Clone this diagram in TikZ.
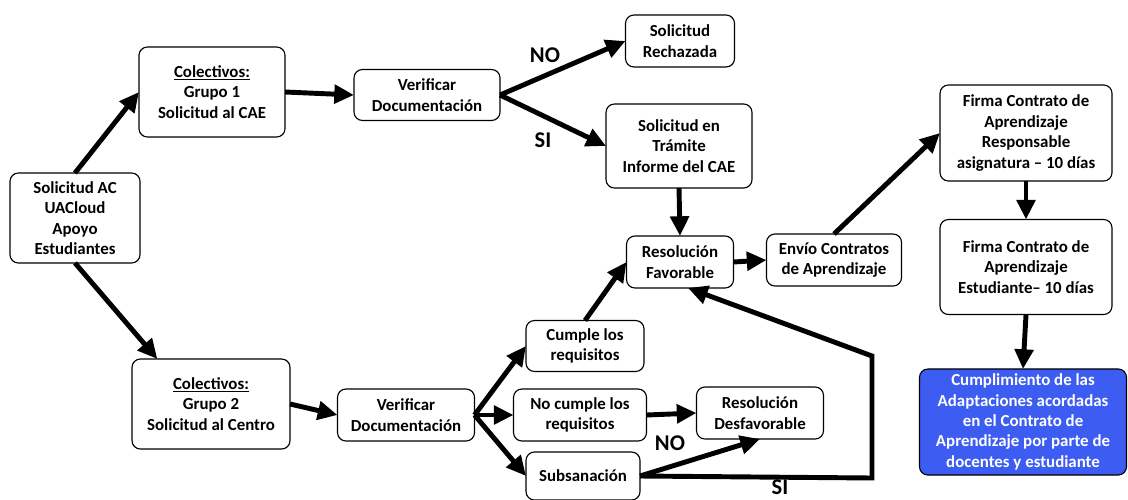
\documentclass[tikz,border=0pt]{standalone}
\usepackage{fontspec}
\setmainfont{Carlito}
\usepackage{xcolor}
\usepackage{tikz}
\usetikzlibrary{arrows.meta,positioning}
\definecolor{azul}{HTML}{3D5CF2}

\begin{document}
\begin{tikzpicture}[x=0.025cm, y=-0.025cm,
    caja/.style={draw, rounded corners=6pt, line width=0.8pt, align=center, inner sep=2pt, outer sep=0pt,
      font=\fontsize{12pt}{14.5pt}\selectfont\bfseries},
    flecha/.style={-{Triangle[length=14pt,width=13pt]}, line width=3.5pt},
    etiqueta/.style={font=\fontsize{16pt}{18pt}\selectfont\bfseries}]
    \useasboundingbox (0,0) rectangle (1128,499);

    % Inicio
    \node[caja, minimum width=3.25cm, minimum height=2.25cm] (inicio) at (75,218) {Solicitud AC\\UACloud\\Apoyo\\Estudiantes};

    % Grupo 1
    \node[caja, minimum width=3.65cm, minimum height=2.25cm] (grupo1) at (212,92) {\underline{Colectivos:}\\Grupo 1\\Solicitud al CAE};
    \node[caja, minimum width=3.65cm, minimum height=1.275cm] (verif1) at (427,95) {Verificar\\Documentación};
    \node[caja, minimum width=2.725cm, minimum height=1.3cm] (rechazo) at (680,41) {Solicitud\\Rechazada};
    \node[caja, minimum width=3.65cm, minimum height=2.1cm] (tramite) at (679,146) {Solicitud en\\Trámite\\Informe del CAE};

    % Resolucion y contratos
    \node[caja, minimum width=2.675cm, minimum height=1.3cm] (favor) at (680,262) {Resolución\\Favorable};
    \node[caja, minimum width=3.375cm, minimum height=1.3cm] (envio) at (834,260) {Envío Contratos\\de Aprendizaje};
    \node[caja, minimum width=4.3cm, minimum height=2.4cm] (firma1) at (1026,133) {Firma Contrato de\\Aprendizaje\\Responsable\\asignatura -- 10 días};
    \node[caja, minimum width=4.3cm, minimum height=2.375cm] (firma2) at (1026,267) {Firma Contrato de\\Aprendizaje\\Estudiante-- 10 días};
    \node[caja, fill=azul, text=white, minimum width=5.175cm, minimum height=2.65cm] (cumpl) at (1023,422) {Cumplimiento de las\\Adaptaciones acordadas\\en el Contrato de\\Aprendizaje por parte de\\docentes y estudiante};

    % Grupo 2
    \node[caja, minimum width=3.95cm, minimum height=2.25cm] (grupo2) at (211,404) {\underline{Colectivos:}\\Grupo 2\\Solicitud al Centro};
    \node[caja, minimum width=3.425cm, minimum height=1.3cm] (verif2) at (406,415) {Verificar\\Documentación};
    \node[caja, minimum width=2.95cm, minimum height=1.275cm] (cumple) at (585,346) {Cumple los\\requisitos};
    \node[caja, minimum width=3.325cm, minimum height=1.3cm] (nocumple) at (580,415) {No cumple los\\requisitos};
    \node[caja, minimum width=3.175cm, minimum height=1.3cm] (desfav) at (760,413) {Resolución\\Desfavorable};
    \node[caja, minimum width=2.85cm, minimum height=1.2cm] (subsan) at (583,476) {Subsanación};

    % Esquinas del retorno
    \coordinate (esq1) at (872,478);
    \coordinate (esq2) at (872,356);

    % Conexiones
    \draw[flecha] (inicio.north) -- (grupo1.west);
    \draw[flecha] (inicio.south) -- (grupo2.140);
    \draw[flecha] (grupo1.east) -- (verif1.west);
    \draw[flecha] (verif1.east) -- (rechazo.west);
    \draw[flecha] (verif1.east) -- (tramite.west);
    \draw[flecha] (tramite.south) -- (favor.north);
    \draw[flecha] (favor.east) -- (envio.west);
    \draw[flecha] (envio.north) -- (firma1.west);
    \draw[flecha] (firma1.south) -- (firma2.north);
    \draw[flecha] (firma2.south) -- (cumpl.north);

    \draw[flecha] (grupo2.east) -- (verif2.west);
    \draw[flecha] (verif2.east) -- (cumple.west);
    \draw[flecha] (verif2.east) -- (nocumple.west);
    \draw[flecha] (verif2.east) -- (subsan.west);
    \draw[flecha] (cumple.north) -- (favor.west);
    \draw[flecha] (nocumple.east) -- (desfav.west);
    \draw[flecha] (subsan.east) -- (desfav.south);
    \draw[flecha] (subsan.east) -- (esq1) -- (esq2) -- ([xshift=0.2cm]favor.south);

    % Etiquetas
    \node[etiqueta] (no1) at (545,55) {NO};
    \node[etiqueta] (si1) at (543,140) {SI};
    \node[etiqueta] (no2) at (670,443) {NO};
    \node[etiqueta, inner sep=0pt] (si2) at (780,487) {SI};
\end{tikzpicture}
\end{document}
